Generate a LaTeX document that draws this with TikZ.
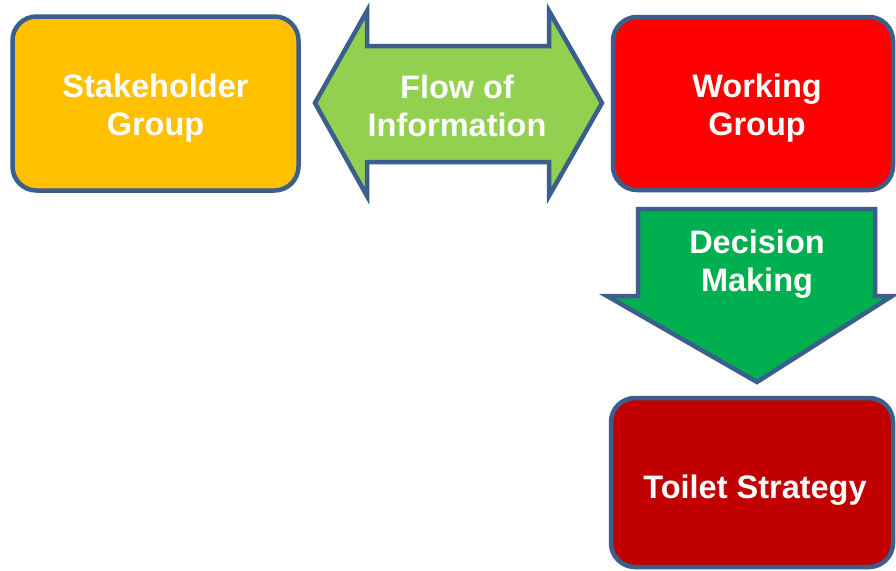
\documentclass[tikz,border=0pt]{standalone}
\usepackage{fontspec}
\setmainfont{Liberation Sans}
\begin{document}
\begin{tikzpicture}[x=1pt,y=-1pt,
  edge/.style={draw=bordercol,line width=4.5pt,line join=miter},
  box/.style={edge,rounded corners=24pt,inner sep=0pt,outer sep=0pt},
  lbl/.style={text=white,font=\fontsize{32.5}{38}\selectfont\bfseries,align=center}]
\definecolor{bordercol}{HTML}{3B5E8C}
\definecolor{ygold}{HTML}{FFC000}
\definecolor{lgreen}{HTML}{92D050}
\definecolor{pred}{HTML}{FF0000}
\definecolor{dgreen}{HTML}{00B050}
\definecolor{dred}{HTML}{C00000}
\useasboundingbox (0,0) rectangle (896,570);
\node[box,fill=ygold,minimum width=286pt,minimum height=174pt] (stake) at (155.5,103.5) {};
\node[lbl] (staketxt) at (155.5,108) {Stakeholder\\Group};
\node[box,fill=pred,minimum width=280pt,minimum height=173pt] (work) at (753,103.5) {};
\node[lbl] (worktxt) at (757,108) {Working\\Group};
\node[box,fill=dred,minimum width=282pt,minimum height=169pt] (toilet) at (752,482.5) {};
\node[lbl] (toilettxt) at (755,490) {Toilet Strategy};
\path[edge,fill=lgreen] (315,103) -- (367,11) -- (367,46) -- (549,46) -- (549,11) -- (602,103) -- (549,196) -- (549,162) -- (367,162) -- (367,196) -- cycle;
\node[lbl] (flow) at (457,106) {Flow of\\Information};
\path[edge,fill=dgreen] (638,209) -- (875,209) -- (875,296) -- (892,296) -- (757,382) -- (607,296) -- (638,296) -- cycle;
\node[lbl] (dec) at (757,264.5) {Decision\\Making};
\end{tikzpicture}
\end{document}
